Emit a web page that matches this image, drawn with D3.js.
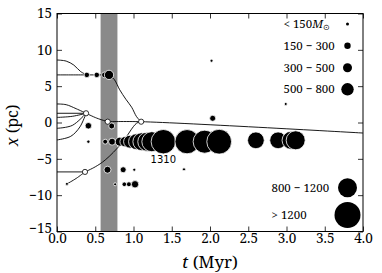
<!DOCTYPE html>
<html><head><meta charset="utf-8">
<script src="https://cdn.jsdelivr.net/npm/d3@7"></script>
<style>body{margin:0;background:#fff}svg{display:block}</style>
</head><body>
<svg id="c" width="382" height="273"></svg>
<script>
// ---------- data ----------
const xTicks = [0, 0.5, 1, 1.5, 2, 2.5, 3, 3.5, 4];
const yTicks = [-15, -10, -5, 0, 5, 10, 15];
const band = [0.57, 0.79];

// trajectories [t (Myr), x (pc)]
const trackA  = [[0,8.6],[0.12,8.45],[0.22,7.9],[0.31,7.0],[0.39,6.55]];
const trackB  = [[0,6.55],[0.39,6.55],[0.68,6.55]];
const trackArc = [[0.68,6.55],[0.75,5.9],[0.82,4.5],[0.90,3.2],[0.976,2.1],[1.04,0.8],[1.10,0.11]];
const trackC1 = [[0,2.55],[0.12,2.45],[0.25,1.9],[0.38,1.27]];
const trackC2 = [[0,1.27],[0.38,1.27]];
const trackC3 = [[0,0.7],[0.2,0.85],[0.38,1.27]];
const trackC4 = [[0,-0.8],[0.2,-0.4],[0.38,1.27]];
const trackC6 = [[0,-2.4],[0.18,-1.9],[0.3,-0.6],[0.38,1.27]];
const trackC5 = [[0.38,1.27],[0.52,0.6],[0.663,0.11]];
const trackMain = [[0.663,0.11],[1.10,0.11],[4.0,-1.45]];
const trackD1 = [[0,-6.8],[0.366,-6.8]];
const trackD2 = [[0.13,-8.45],[0.25,-7.7],[0.366,-6.8]];
const trackD3 = [[0.366,-6.8],[0.5,-6.1],[0.63,-5.16],[0.845,-2.86],[1.04,-0.1],[1.10,0.11]];
const tracks = [trackA, trackB, trackArc, trackC1, trackC2, trackC3, trackC4, trackC6, trackC5, trackMain, trackD1, trackD2, trackD3];

// merger points (open circles)
const mergers = [[0.38,1.27],[0.663,0.11],[1.10,0.11],[0.366,-6.8]];

// clusters [t, x, mass (Msun)]
const upperRow = [[0.39,6.55,190],[0.52,6.55,190],[0.62,6.55,200],[0.68,6.55,420]];
const scattered = [[0.41,-0.45,235],[0.715,-0.48,210],[0.41,-2.64,110],[2.02,8.5,100],
                   [2.035,0.58,210],[2.99,2.55,100],[1.66,-6.44,100]];
const mainRow = [[0.63,-2.64,170],[0.72,-2.64,265],[0.82,-2.64,400],[0.89,-2.64,500],
                 [0.955,-2.64,680],[1.04,-2.64,840],[1.11,-2.64,950],[1.18,-2.64,1000],
                 [1.24,-2.64,1060],[1.39,-2.64,1310],[1.70,-2.64,1300],[1.93,-2.64,1230],
                 [2.12,-2.64,1330],[2.60,-2.45,880],[2.89,-2.45,880],[3.06,-2.45,950],[3.12,-2.45,1000]];
const row65 = [[0.66,-6.5,265],[0.865,-6.5,210],[1.01,-6.5,100]];
const row85 = [[0.13,-8.45,100],[0.76,-8.5,100],[0.88,-8.5,160],[0.94,-8.5,170],[1.02,-8.5,290]];
const labelled = [1.39, -2.64, "1310"];

const legendTop = ["< 150", "150 \u2212 300", "300 \u2212 500", "500 \u2212 800"];
const legendTopMass = [100, 225, 400, 650];
const legendBottom = ["800 \u2212 1200", "> 1200"];
const legendBottomMass = [1000, 1400];

// ---------- layout ----------
const W = 382, H = 273;
const m = {left: 57, right: 19, top: 13.5, bottom: 41.5};
const iw = W - m.left - m.right, ih = H - m.top - m.bottom;
const svg = d3.select("#c");
const g = svg.append("g").attr("transform", `translate(${m.left},${m.top})`);

const x = d3.scaleLinear().domain([0, 4]).range([0, iw]);
const y = d3.scaleLinear().domain([-15, 15]).range([ih, 0]);
const r = d3.scaleLinear().domain([100, 225, 400, 650, 1000, 1400]).range([1.5, 3.2, 4.5, 6.2, 9.5, 13]);

const serif = "Noto Serif";

// band
g.append("rect").attr("x", x(band[0])).attr("y", 0)
  .attr("width", x(band[1]) - x(band[0])).attr("height", ih).attr("fill", "#8a8a8a");

// lines
const line = d3.line().x(d => x(d[0])).y(d => y(d[1])).curve(d3.curveCatmullRom.alpha(0.5));
g.selectAll("path.trk").data(tracks).join("path").attr("class", "trk")
  .attr("d", line).attr("fill", "none").attr("stroke", "#000").attr("stroke-width", 0.9);

// dots
const dots = [...upperRow, ...scattered, ...row65, ...row85, ...mainRow];
g.selectAll("circle.dot").data(dots).join("circle").attr("class", "dot")
  .attr("cx", d => x(d[0])).attr("cy", d => y(d[1])).attr("r", d => r(d[2]))
  .attr("fill", "#000").attr("stroke", "#fff").attr("stroke-width", 0.8);

// merger markers
g.selectAll("circle.mg").data(mergers).join("circle").attr("class", "mg")
  .attr("cx", d => x(d[0])).attr("cy", d => y(d[1])).attr("r", 2.6)
  .attr("fill", "#fff").attr("stroke", "#000").attr("stroke-width", 0.8);

// label 1310
g.append("text").attr("x", x(labelled[0])).attr("y", y(labelled[1]) + 21.5)
  .attr("text-anchor", "middle").style("font-family", "DejaVu Sans")
  .style("font-size", "10px").text(labelled[2]);

// axes
const fmtX = d3.format(".1f");
const ax = g.append("g").attr("transform", `translate(0,${ih})`)
  .call(d3.axisBottom(x).tickValues(xTicks).tickFormat(fmtX).tickSizeInner(-5).tickSizeOuter(0).tickPadding(1.5));
const axT = g.append("g")
  .call(d3.axisTop(x).tickValues(xTicks).tickFormat("").tickSizeInner(-5).tickSizeOuter(0));
const ay = g.append("g")
  .call(d3.axisLeft(y).tickValues(yTicks).tickSizeInner(-5).tickSizeOuter(0).tickPadding(5));
const ayR = g.append("g").attr("transform", `translate(${iw},0)`)
  .call(d3.axisRight(y).tickValues(yTicks).tickFormat("").tickSizeInner(-5).tickSizeOuter(0));
[ax, axT, ay, ayR].forEach(a => {
  a.select(".domain").remove();
  a.attr("font-family", null).attr("font-size", null);
  a.selectAll("line").attr("stroke", "#000").attr("stroke-width", 0.8);
  a.selectAll("text").style("font-family", serif).style("font-size", "13.5px").attr("fill", "#000");
});
ay.selectAll("text").filter(d => d === -15).attr("dy", "0.05em");
g.append("rect").attr("width", iw).attr("height", ih).attr("fill", "none")
  .attr("stroke", "#000").attr("stroke-width", 1);

// axis labels
const xl = svg.append("text").attr("x", m.left + iw / 2).attr("y", 268)
  .attr("text-anchor", "middle").style("font-family", serif).style("font-size", "17px");
xl.append("tspan").style("font-style", "italic").text("t");
xl.append("tspan").text(" (Myr)");
const yl = svg.append("text").attr("transform", `translate(17.5,${m.top + y(-0.4)}) rotate(-90)`)
  .attr("text-anchor", "middle").style("font-family", serif).style("font-size", "16px");
yl.append("tspan").style("font-style", "italic").text("x");
yl.append("tspan").text(" (pc)");

// legends
const lgDotX = iw - 15.5;
const topRowsY = [10.5, 32.2, 54.2, 75.8];
const lt = g.append("g");
legendTop.forEach((lab, i) => {
  lt.append("circle").attr("cx", lgDotX).attr("cy", topRowsY[i]).attr("r", r(legendTopMass[i])).attr("fill", "#000");
  const t = lt.append("text").attr("x", lgDotX - 64).attr("y", topRowsY[i] + 4)
    .style("font-family", serif).style("font-size", "11.5px").text(lab);
  if (i === 0) {
    t.append("tspan").style("font-style", "italic").text("M");
    t.append("tspan").style("font-size", "8px").attr("dy", 2).text("\u2299");
  }
});
const botRowsY = [174.2, 201.5];
legendBottom.forEach((lab, i) => {
  lt.append("circle").attr("cx", lgDotX).attr("cy", botRowsY[i]).attr("r", r(legendBottomMass[i])).attr("fill", "#000");
  lt.append("text").attr("x", lgDotX - 76).attr("y", botRowsY[i] + 4)
    .style("font-family", serif).style("font-size", "11.5px").text(lab);
});
</script>
</body></html>
